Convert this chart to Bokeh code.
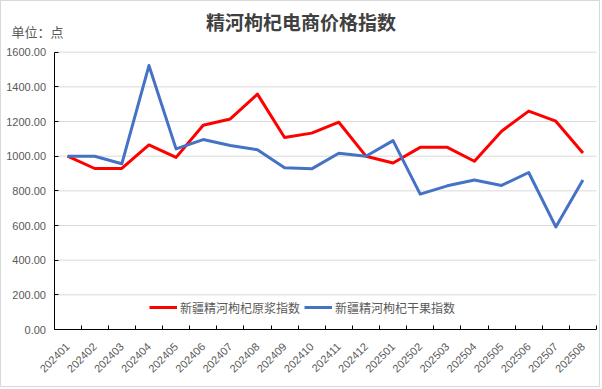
from bokeh.plotting import figure
from bokeh.models import (FixedTicker, CustomJSTickFormatter, NumeralTickFormatter,
                          Legend, LegendItem, Label, Range1d)
from bokeh.embed import file_html
from bokeh.resources import INLINE

months = ["202401", "202402", "202403", "202404", "202405", "202406", "202407",
          "202408", "202409", "202410", "202411", "202412", "202501", "202502",
          "202503", "202504", "202505", "202506", "202507", "202508"]
paste_index = [1000, 929, 929, 1065, 993, 1179, 1215, 1358, 1108, 1133, 1196,
               1000, 961, 1051, 1051, 971, 1144, 1260, 1202, 1018]
dried_index = [1000, 1000, 956, 1523, 1042, 1096, 1062, 1037, 933, 927, 1017,
               1000, 1090, 781, 829, 863, 831, 906, 592, 863]
y_ticks = [0, 200, 400, 600, 800, 1000, 1200, 1400, 1600]
title_text = "精河枸杞电商价格指数"
unit_text = "单位：点"
name_paste = "新疆精河枸杞原浆指数"
name_dried = "新疆精河枸杞干果指数"

CJK = "Noto Sans CJK SC"
GREY = "#595959"

# ---- layout (canvas pixels); the frame covers the whole canvas ----
W, H = 600, 387
AXIS_X = 52.5          # pixel x of the value axis
AXIS_RIGHT = 595.0     # pixel x of the last category boundary
TOP_TICK_Y = 50.7      # pixel y of the top gridline
ZERO_Y = 328.0         # pixel y of the category axis

n = len(months)
y_max = y_ticks[-1]
px_per_unit = (ZERO_Y - TOP_TICK_Y) / y_max
y_end = ZERO_Y / px_per_unit
y_start = -(H - ZERO_Y) / px_per_unit
px_per_cat = (AXIS_RIGHT - AXIS_X) / n
x_start = -0.5 - AXIS_X / px_per_cat
x_last = n - 0.5
x_end = x_last + (W - AXIS_RIGHT) / px_per_cat

xs = list(range(n))

p = figure(width=W, height=H, output_backend="svg", toolbar_location=None,
           x_range=Range1d(x_start, x_end), y_range=Range1d(y_start, y_end),
           min_border_left=0, min_border_right=0, min_border_top=0, min_border_bottom=0)
p.styles = {"border": "1px solid #d9d9d9"}
p.outline_line_color = None
p.background_fill_color = "white"
p.border_fill_color = "white"

# horizontal gridlines only across the plot area
p.xgrid.visible = False
p.ygrid.visible = False
grid_y = y_ticks[1:]
p.segment(x0=[-0.5] * len(grid_y), x1=[x_last] * len(grid_y), y0=grid_y, y1=grid_y,
          line_color="#d9d9d9", line_width=1)

r1 = p.line(xs, paste_index, line_color="#FF0000", line_width=3, line_join="round")
r2 = p.line(xs, dried_index, line_color="#4472C4", line_width=3, line_join="round")

# x axis at value 0: ticks between categories, labels at category centres
p.xaxis.fixed_location = 0
p.xaxis.bounds = (-0.5, x_last)
p.xaxis.ticker = FixedTicker(ticks=xs, minor_ticks=[i - 0.5 for i in range(n + 1)])
p.xaxis.formatter = CustomJSTickFormatter(args=dict(labels=months),
                                          code="return labels[Math.round(tick)] || '';")
p.xaxis.major_tick_in = 0
p.xaxis.major_tick_out = 0
p.xaxis.minor_tick_in = 4
p.xaxis.minor_tick_out = 0
p.xaxis.minor_tick_line_color = "black"
p.xaxis.axis_line_color = "black"
p.xaxis.major_label_orientation = 0.785398
p.xaxis.major_label_standoff = 15
p.xaxis.major_label_text_font = "Liberation Sans"
p.xaxis.major_label_text_font_size = "11px"
p.xaxis.major_label_text_color = GREY

# y axis at the first category boundary
p.yaxis.fixed_location = -0.5
p.yaxis.bounds = (0, y_max)
p.yaxis.ticker = FixedTicker(ticks=y_ticks, minor_ticks=[])
p.yaxis.formatter = NumeralTickFormatter(format="0.00")
p.yaxis.major_tick_in = 4
p.yaxis.major_tick_out = 0
p.yaxis.minor_tick_line_color = None
p.yaxis.axis_line_color = "black"
p.yaxis.major_tick_line_color = "black"
p.yaxis.major_label_standoff = 8
p.yaxis.major_label_text_font = "Liberation Sans"
p.yaxis.major_label_text_font_size = "11px"
p.yaxis.major_label_text_color = GREY

# title and unit (screen units: from frame left / frame bottom)
p.add_layout(Label(x=299.5, y=H - 20, x_units="screen", y_units="screen",
                   text=title_text, text_align="center", text_baseline="middle",
                   text_font=CJK, text_font_style="bold", text_font_size="19px",
                   text_color="#404040"))
p.add_layout(Label(x=10, y=H - 29.5, x_units="screen", y_units="screen",
                   text=unit_text, text_align="left", text_baseline="middle",
                   text_font=CJK, text_font_size="13px", text_color=GREY))

legend = Legend(items=[LegendItem(label=name_paste, renderers=[r1]),
                       LegendItem(label=name_dried, renderers=[r2])],
                orientation="horizontal", location=(148, H - 316),
                padding=0, margin=0, spacing=4, glyph_width=28, glyph_height=20,
                label_standoff=3, label_height=20,
                label_text_font=CJK, label_text_font_size="12px",
                label_text_color=GREY, border_line_color=None,
                background_fill_alpha=0)
p.add_layout(legend)

open("out.html", "w").write(file_html(p, INLINE))
